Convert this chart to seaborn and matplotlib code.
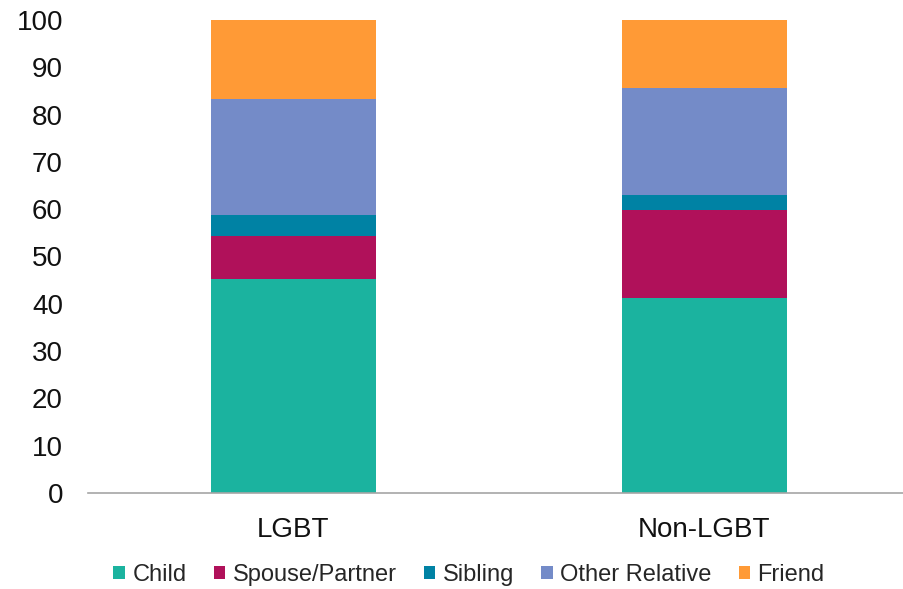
import matplotlib
matplotlib.use("Agg")
import matplotlib.pyplot as plt
import seaborn as sns
import pandas as pd
import numpy as np
from matplotlib.patches import Patch

groups = ["LGBT", "Non-LGBT"]
series = ["Child", "Spouse/Partner", "Sibling", "Other Relative", "Friend"]
child = [45.3, 41.2]
spouse = [9.0, 18.6]
sibling = [4.4, 3.1]
other = [24.5, 22.8]
friend = [16.8, 14.3]
colors = ["#1BB39F", "#B0115A", "#0082A4", "#748BC8", "#FF9A36"]
yticks = [0, 10, 20, 30, 40, 50, 60, 70, 80, 90, 100]

sns.set_theme(style="white")
plt.rcParams["font.family"] = ["Liberation Sans", "DejaVu Sans"]

vals = np.array([child, spouse, sibling, other, friend])
cum = np.cumsum(vals, axis=0)
rows = []
for i, s in enumerate(series):
    for j, g in enumerate(groups):
        rows.append({"group": g, "series": s, "top": cum[i, j]})
df = pd.DataFrame(rows)

fig = plt.figure(figsize=(9.04, 5.89), dpi=100)
ax = fig.add_axes([88/904, 1 - 493/589, 822/904, (493-20)/589])

for i in reversed(range(len(series))):
    sub = df[df["series"] == series[i]]
    sns.barplot(data=sub, x="group", y="top", color=colors[i], width=0.401,
                saturation=1, ax=ax, order=groups, linewidth=0)

ax.set_ylim(0, 100)
ax.set_xlim(-0.5, 1.5)
ax.set_yticks(yticks)
ax.set_yticklabels([str(t) for t in yticks], fontsize=20, color="#111111")
ax.tick_params(axis="x", labelsize=20, colors="#111111", length=0, pad=17)
ax.tick_params(axis="y", length=0, pad=18)
ax.set_xlabel("")
ax.set_ylabel("")
for sp in ["top", "right", "left"]:
    ax.spines[sp].set_visible(False)
ax.spines["bottom"].set_color("#A6A6A6")
ax.spines["bottom"].set_linewidth(1.2)

handles = [Patch(facecolor=c, edgecolor="none", label=s) for s, c in zip(series, colors)]
fig.legend(handles=handles, loc="center", bbox_to_anchor=(469/904, 1 - 575/589), ncol=5,
           frameon=False, fontsize=17, handlelength=0.5, handleheight=0.5,
           handletextpad=0.3, columnspacing=1.15)

fig.savefig("out.png", dpi=100)
